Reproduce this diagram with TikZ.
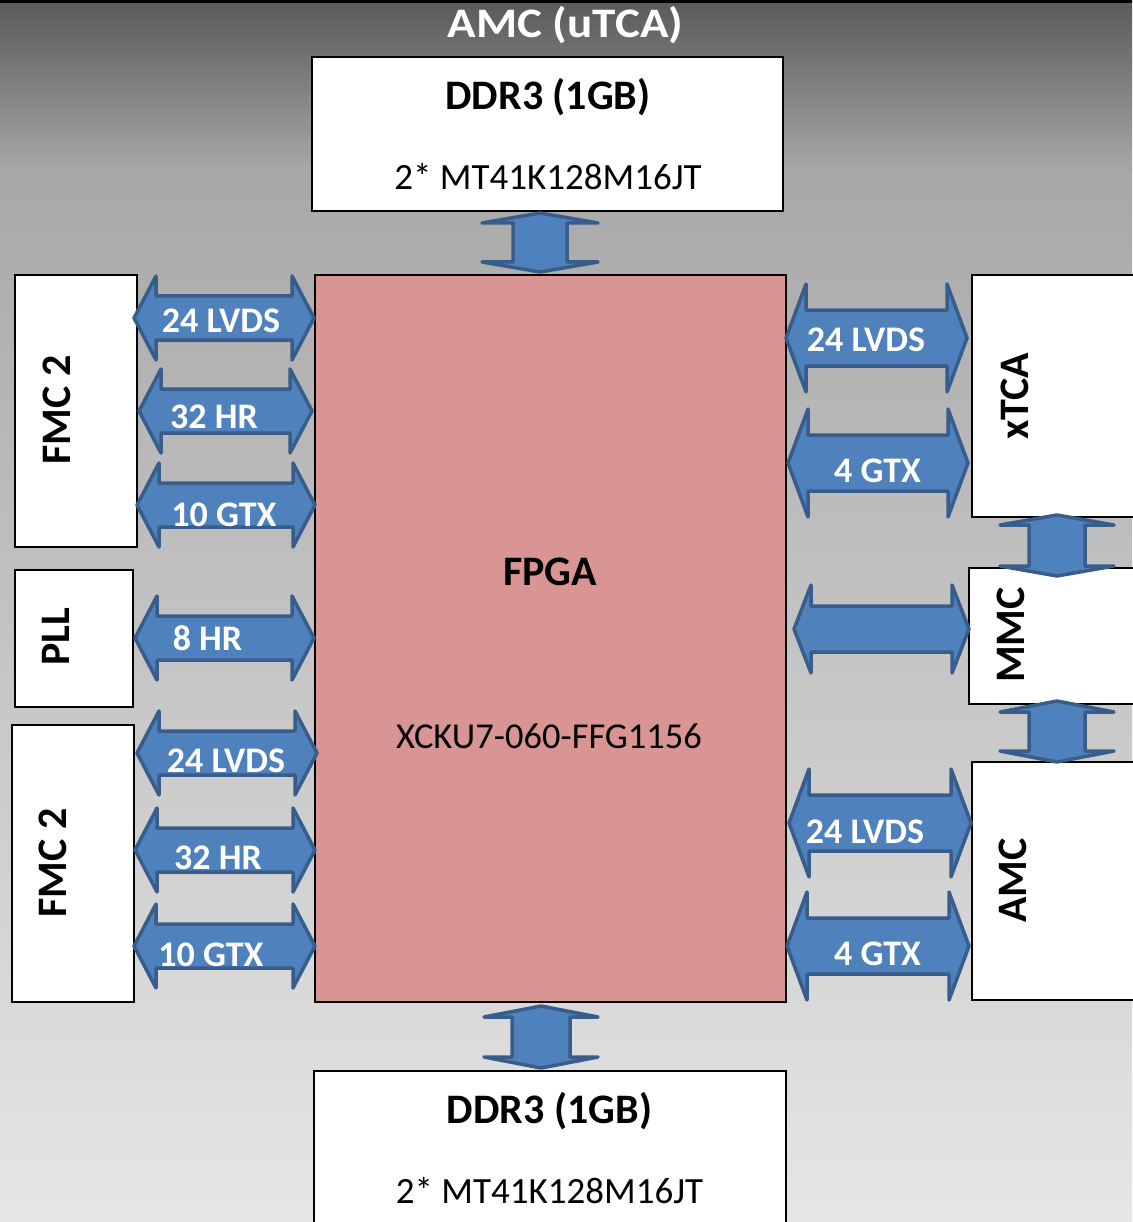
\documentclass[tikz,border=0pt]{standalone}
\usepackage{fontspec}
\setmainfont{Carlito}
\newcommand\fsz[1]{\fontsize{#1}{#1}\selectfont}
\definecolor{arrfill}{HTML}{4F81BD}
\definecolor{arrline}{HTML}{385D8A}
\definecolor{fpgafill}{HTML}{D99594}
\definecolor{bgtop}{HTML}{595959}
\definecolor{bgmid}{HTML}{A8A8A8}
\definecolor{bgbot}{HTML}{E6E6E6}
\tikzset{
  box/.style={draw=black, line width=1.8pt, fill=white, inner sep=0pt},
  blockarrow/.style={fill=arrfill, draw=arrline, line width=3.5pt, line join=round},
  lbl/.style={text=white, font=\bfseries\fsz{36}, anchor=base, inner sep=0pt},
  vlbl/.style={text=black, font=\bfseries\fsz{42}, rotate=90, inner sep=0pt},
  bigb/.style={text=black, font=\bfseries\fsz{42}, anchor=base, inner sep=0pt},
  reg/.style={text=black, font=\fsz{37}, anchor=base, inner sep=0pt}
}
% horizontal double block arrow: left tip, right tip, centre y, head length, head half height, shaft half height
\newcommand\dblH[6]{%
  \filldraw[blockarrow] (#1,#3) -- ({#1+#4},{#3-#5}) -- ({#1+#4},{#3-#6}) -- ({#2-#4},{#3-#6}) -- ({#2-#4},{#3-#5}) -- (#2,#3) -- ({#2-#4},{#3+#5}) -- ({#2-#4},{#3+#6}) -- ({#1+#4},{#3+#6}) -- ({#1+#4},{#3+#5}) -- cycle;}
% vertical double block arrow: top tip, bottom tip, centre x, head length, head half width, shaft half width
\newcommand\dblV[6]{%
  \filldraw[blockarrow] (#3,#1) -- ({#3+#5},{#1+#4}) -- ({#3+#6},{#1+#4}) -- ({#3+#6},{#2-#4}) -- ({#3+#5},{#2-#4}) -- (#3,#2) -- ({#3-#5},{#2-#4}) -- ({#3-#6},{#2-#4}) -- ({#3-#6},{#1+#4}) -- ({#3-#5},{#1+#4}) -- cycle;}
\begin{document}
\begin{tikzpicture}[x=1pt,y=-1pt]
\useasboundingbox (0,0) rectangle (1132,1222);
% background
\shade[top color=bgtop, bottom color=bgmid] (0,0) rectangle (1132,172);
\shade[top color=bgmid, bottom color=bgbot] (0,170) rectangle (1132,1222);
\fill[black] (0,0) rectangle (1132,3);
% title
\node[text=white, font=\bfseries\fsz{42}, anchor=base, inner sep=0pt, xscale=1.12] (title) at (565.5,38) {AMC (uTCA)};
% boxes
\node[box, minimum width=471pt, minimum height=154pt] (ddrtop) at (547.5,134) {};
\node[box, fill=fpgafill, minimum width=471pt, minimum height=727pt] (fpga) at (550.5,638.5) {};
\node[box, minimum width=472pt, minimum height=169pt] (ddrbot) at (550,1155.5) {};
\node[box, minimum width=122pt, minimum height=272pt] (fmca) at (76,411) {};
\node[box, minimum width=118pt, minimum height=137pt] (pll) at (74,638.5) {};
\node[box, minimum width=122pt, minimum height=277pt] (fmcb) at (73,863.5) {};
\node[box, minimum width=168pt, minimum height=242pt] (xtca) at (1056,396) {};
\node[box, minimum width=171pt, minimum height=136pt] (mmc) at (1054.5,636) {};
\node[box, minimum width=168pt, minimum height=238pt] (amc) at (1056,881) {};
% box texts
\node[bigb] (ddrtopt) at (548,110) {DDR3 (1GB)};
\node[reg] (ddrtopp) at (548,190) {2* MT41K128M16JT};
\node[bigb] (ddrbott) at (549.5,1123) {DDR3 (1GB)};
\node[reg] (ddrbotp) at (549.5,1203) {2* MT41K128M16JT};
\node[bigb] (fpgat) at (550,585) {FPGA};
\node[reg, font=\fsz{36.5}] (fpgap) at (549,748) {XCKU7-060-FFG1156};
\node[vlbl] (fmcat) at (57,410) {FMC 2};
\node[vlbl] (pllt) at (56,637) {PLL};
\node[vlbl] (fmcbt) at (53,863) {FMC 2};
\node[vlbl] (xtcat) at (1015,396) {xTCA};
\node[vlbl] (mmct) at (1010.5,635) {MMC};
\node[vlbl] (amct) at (1013,880.5) {AMC};
% vertical arrows
\dblV{213}{272}{540}{10}{58}{27}
\dblV{1006}{1068}{541}{11}{57}{29}
\dblV{515}{576}{1057}{10}{57}{28}
\dblV{701}{762}{1057}{11}{57}{28}
% left arrows
\dblH{134}{314}{318}{22}{42}{22}
\dblH{139}{312}{411}{22}{42}{22}
\dblH{137}{315}{505}{22}{42}{22}
\dblH{135}{314}{638}{22}{42}{22}
\dblH{137}{317}{753}{22}{42}{22}
\dblH{135}{315}{850}{22}{42}{22}
\dblH{134}{315}{946}{22}{42}{22}
% right arrows
\dblH{786}{967}{338}{20}{54}{28}
\dblH{788}{968}{463}{20}{54}{28}
\dblH{794}{969}{629}{17}{44}{23}
\dblH{789}{971}{823}{20}{54}{28}
\dblH{787}{969}{946}{20}{54}{28}
% arrow labels
\node[lbl] (l1) at (221,332) {24 LVDS};
\node[lbl] (l2) at (214,428) {32 HR};
\node[lbl] (l3) at (224,526) {10 GTX};
\node[lbl] (l4) at (207.5,650) {8 HR};
\node[lbl] (l5) at (226,772) {24 LVDS};
\node[lbl] (l6) at (218,869) {32 HR};
\node[lbl] (l7) at (211,966) {10 GTX};
\node[lbl] (r1) at (866,351) {24 LVDS};
\node[lbl] (r2) at (877.5,482) {4 GTX};
\node[lbl] (r3) at (865,843) {24 LVDS};
\node[lbl] (r4) at (877.5,965) {4 GTX};
\end{tikzpicture}
\end{document}
